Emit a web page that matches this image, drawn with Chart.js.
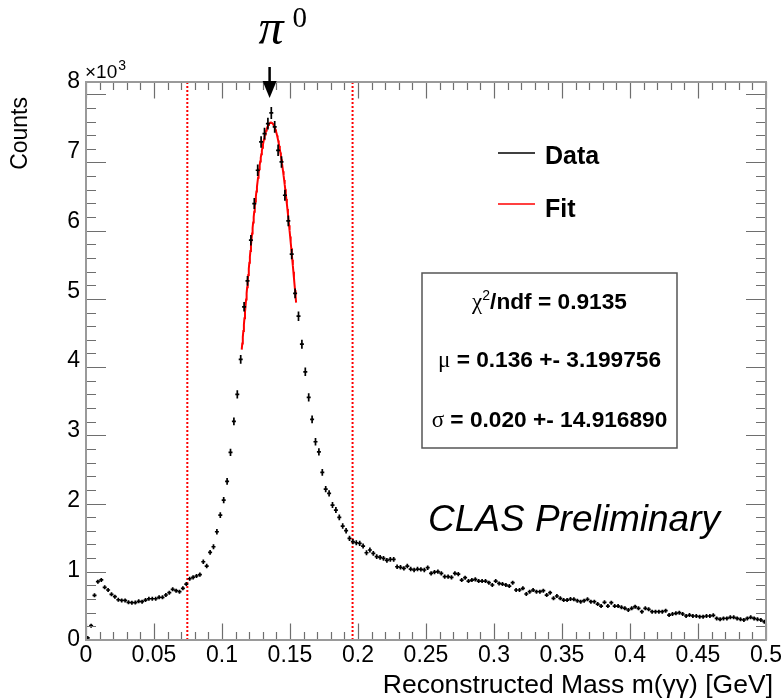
<!DOCTYPE html>
<html>
<head>
<meta charset="utf-8">
<script src="https://cdn.jsdelivr.net/npm/chart.js@4.4.1/dist/chart.umd.min.js"></script>
<style>
  html, body { margin: 0; padding: 0; background: #ffffff; }
  #wrap { width: 781px; height: 700px; position: relative; }
</style>
</head>
<body>
<div id="wrap"><canvas id="c" width="781" height="700"></canvas></div>
<script>
// Two-photon invariant mass spectrum, 200 bins of 2.5 MeV from 0 to 0.5 GeV
const binWidth = 0.0025;
const counts = [
  30, 210, 655, 855, 880, 772, 733, 670, 635, 590,
  580, 580, 552, 547, 548, 567, 562, 585, 605, 605,
  605, 625, 625, 660, 694, 743, 723, 709, 757, 820,
  898, 918, 938, 957, 1147, 1084, 1285, 1367, 1587, 1831,
  2051, 2325, 2750, 3204, 3600, 4113, 4884, 5265, 5861, 6398,
  6886, 7301, 7424, 7570, 7726, 7521, 7179, 7008, 6520, 6144,
  5656, 5080, 4747, 4337, 3932, 3556, 3234, 2906, 2759, 2457,
  2212, 2149, 1978, 1905, 1797, 1670, 1602, 1490, 1441, 1426,
  1416, 1377, 1279, 1319, 1270, 1221, 1211, 1197, 1167, 1182,
  1182, 1074, 1065, 1050, 1084, 1040, 1026, 1040, 1036, 1026,
  1060, 977, 996, 1001, 977, 928, 928, 918, 977, 967,
  879, 913, 864, 879, 889, 864, 864, 864, 840, 806,
  864, 830, 820, 806, 791, 840, 733, 733, 757, 674,
  708, 733, 708, 708, 723, 659, 694, 611, 645, 611,
  586, 586, 601, 596, 576, 562, 576, 596, 562, 562,
  527, 498, 552, 498, 547, 498, 498, 479, 464, 440,
  464, 488, 464, 415, 464, 450, 415, 415, 415, 415,
  430, 366, 381, 391, 400, 381, 352, 366, 352, 352,
  342, 342, 352, 352, 361, 317, 303, 317, 317, 332,
  332, 317, 303, 293, 317, 332, 317, 303, 293, 269
];

// Axis tick labels (y labels in units of 10^3 counts)
const xTickLabels = ['0', '0.05', '0.1', '0.15', '0.2', '0.25', '0.3', '0.35', '0.4', '0.45', '0.5'];
const yTickLabels = ['0', '1', '2', '3', '4', '5', '6', '7', '8'];

// Gaussian fit result
const fitMu = 0.136;
const fitMuErr = '3.199756';
const fitSigma = 0.020;
const fitSigmaErr = '14.916890';
const fitChi2Ndf = '0.9135';
const fitAmplitude = 7585;
const fitRange = [0.1145, 0.1545];

// Signal window edges and the pi0 marker position
const windowEdges = [0.0745, 0.196];
const peakMarkerX = 0.135;

const yMax = 8180;

const dataPoints = counts.map((c, i) => ({ x: (i + 0.5) * binWidth, y: c }));

const fitPoints = [];
const fitSteps = 100;
for (let k = 0; k <= fitSteps; k++) {
  const x = fitRange[0] + k * (fitRange[1] - fitRange[0]) / fitSteps;
  fitPoints.push({ x: x, y: fitAmplitude * Math.exp(-0.5 * Math.pow((x - fitMu) / fitSigma, 2)) });
}

const SANS = '"Liberation Sans", Arial, Helvetica, sans-serif';
const SERIF = '"Liberation Serif", "DejaVu Serif", serif';

// Error crosses for the histogram: horizontal bar = bin width, vertical bar = sqrt(N)
const errorCrossPlugin = {
  id: 'errorCross',
  afterDatasetsDraw(chart) {
    const ctx = chart.ctx, xs = chart.scales.x, ys = chart.scales.y, a = chart.chartArea;
    const ds = chart.data.datasets[0];
    ctx.save();
    ctx.beginPath();
    ctx.rect(a.left, a.top, a.right - a.left, a.bottom - a.top);
    ctx.clip();
    ctx.strokeStyle = '#000000';
    ctx.lineWidth = 1.7;
    ctx.beginPath();
    ds.data.forEach(p => {
      const px = xs.getPixelForValue(p.x);
      const py = ys.getPixelForValue(p.y);
      const hw = Math.max((xs.getPixelForValue(p.x + binWidth / 2) - xs.getPixelForValue(p.x - binWidth / 2)) / 2, 2);
      const e = Math.sqrt(p.y);
      const yt = Math.min(ys.getPixelForValue(p.y + e), py - 2);
      const yb = Math.max(ys.getPixelForValue(p.y - e), py + 2);
      ctx.moveTo(px - hw, py); ctx.lineTo(px + hw, py);
      ctx.moveTo(px, yt); ctx.lineTo(px, yb);
    });
    ctx.stroke();
    ctx.restore();
  }
};

// Frame with inward major/minor ticks on all four sides
const framePlugin = {
  id: 'frame',
  afterDatasetsDraw(chart) {
    const ctx = chart.ctx, xs = chart.scales.x, ys = chart.scales.y, a = chart.chartArea;
    ctx.save();
    ctx.strokeStyle = '#6e6e6e';
    ctx.lineWidth = 1.2;
    ctx.beginPath();
    for (let k = 0; k <= 50; k++) {
      const v = k * 0.01;
      const px = Math.round(xs.getPixelForValue(v)) + 0.5;
      const len = (k % 5 === 0) ? 16.5 : 8;
      ctx.moveTo(px, a.bottom); ctx.lineTo(px, a.bottom - len);
      ctx.moveTo(px, a.top); ctx.lineTo(px, a.top + len);
    }
    for (let k = 0; k * 200 <= yMax; k++) {
      const v = k * 200;
      const py = Math.round(ys.getPixelForValue(v)) + 0.5;
      const len = (k % 5 === 0) ? 20 : 10;
      ctx.moveTo(a.left, py); ctx.lineTo(a.left + len, py);
      ctx.moveTo(a.right, py); ctx.lineTo(a.right - len, py);
    }
    ctx.stroke();
    ctx.strokeStyle = '#9a9a9a';
    ctx.lineWidth = 2;
    ctx.strokeRect(a.left, a.top, a.right - a.left, a.bottom - a.top);
    ctx.restore();
  }
};

// Titles, legend, fit box and labels
const annotationPlugin = {
  id: 'annotations',
  afterDraw(chart) {
    const ctx = chart.ctx, xs = chart.scales.x, ys = chart.scales.y, a = chart.chartArea;
    ctx.save();
    ctx.fillStyle = '#000000';
    ctx.textBaseline = 'alphabetic';

    // exponent marker of the y axis
    ctx.textAlign = 'left';
    ctx.font = '19px ' + SANS;
    ctx.fillText('\u00d710', a.left - 1, 78);
    const wx = ctx.measureText('\u00d710').width;
    ctx.font = '14px ' + SANS;
    ctx.fillText('3', a.left - 1 + wx + 1, 70);

    // y axis title
    ctx.save();
    ctx.translate(27, 97);
    ctx.rotate(-Math.PI / 2);
    ctx.textAlign = 'right';
    ctx.font = '23px ' + SANS;
    ctx.fillText('Counts', 0, 0);
    ctx.restore();

    // x axis title
    ctx.textAlign = 'right';
    ctx.font = '26.5px ' + SANS;
    ctx.fillText('Reconstructed Mass m(\u03b3\u03b3) [GeV]', 773, 693);

    // pi0 label and arrow
    const ax = xs.getPixelForValue(peakMarkerX);
    ctx.textAlign = 'left';
    ctx.font = 'italic 50px ' + SERIF;
    ctx.fillText('\u03c0', ax - 11, 44);
    ctx.font = '29px ' + SERIF;
    ctx.fillText('0', ax + 23, 27);
    ctx.strokeStyle = '#000000';
    ctx.lineWidth = 2.5;
    ctx.beginPath();
    ctx.moveTo(ax, 67); ctx.lineTo(ax, 84);
    ctx.stroke();
    ctx.beginPath();
    ctx.moveTo(ax - 7, 81); ctx.lineTo(ax + 7, 81); ctx.lineTo(ax, 98); ctx.closePath();
    ctx.fill();

    // legend
    const dsData = chart.data.datasets[0], dsFit = chart.data.datasets[1];
    ctx.lineWidth = 1.5;
    ctx.strokeStyle = '#000000';
    ctx.beginPath(); ctx.moveTo(498, 153); ctx.lineTo(535, 153); ctx.stroke();
    ctx.strokeStyle = dsFit.borderColor;
    ctx.beginPath(); ctx.moveTo(498, 204); ctx.lineTo(535, 204); ctx.stroke();
    ctx.font = 'bold 25px ' + SANS;
    ctx.textAlign = 'left';
    ctx.fillText(dsData.label, 545, 164);
    ctx.fillText(dsFit.label, 545, 217);

    // fit result box
    ctx.strokeStyle = '#555555';
    ctx.lineWidth = 1.5;
    ctx.strokeRect(422, 273, 255, 175);
    const cx = 549.5;
    const drawMixed = (parts, baseline) => {
      let total = 0;
      parts.forEach(p => { ctx.font = p.font; p.w = ctx.measureText(p.t).width; total += p.w; });
      let x = cx - total / 2;
      ctx.textAlign = 'left';
      parts.forEach(p => { ctx.font = p.font; ctx.fillText(p.t, x, baseline + (p.dy || 0)); x += p.w; });
    };
    const greek = '23px ' + SERIF;
    const bold = 'bold 22.7px ' + SANS;
    drawMixed([{ t: '\u03c7', font: greek }, { t: '2', font: '14px ' + SANS, dy: -9 },
               { t: '/ndf = ' + fitChi2Ndf, font: bold }], 309);
    drawMixed([{ t: '\u03bc', font: greek }, { t: ' = ' + fitMu.toFixed(3) + ' +- ' + fitMuErr, font: bold }], 367);
    drawMixed([{ t: '\u03c3', font: greek }, { t: ' = ' + fitSigma.toFixed(3) + ' +- ' + fitSigmaErr, font: bold }], 427);

    // preliminary label
    ctx.font = 'italic 37px ' + SANS;
    ctx.textAlign = 'left';
    ctx.fillText('CLAS Preliminary', 428, 531);

    ctx.restore();
  }
};

const edgeLine = (x) => ({
  type: 'line',
  label: 'window',
  data: [{ x: x, y: 0 }, { x: x, y: yMax }],
  borderColor: '#ff0000',
  borderWidth: 2,
  borderDash: [2, 2],
  pointRadius: 0,
  fill: false,
  order: 3
});

new Chart(document.getElementById('c'), {
  type: 'scatter',
  data: {
    datasets: [
      { label: 'Data', data: dataPoints, pointRadius: 0, showLine: false, borderColor: '#000000', order: 0 },
      { type: 'line', label: 'Fit', data: fitPoints, borderColor: '#ff0000', borderWidth: 2,
        pointRadius: 0, fill: false, tension: 0, order: 1 },
      edgeLine(windowEdges[0]),
      edgeLine(windowEdges[1])
    ]
  },
  options: {
    responsive: false,
    animation: false,
    devicePixelRatio: 1,
    layout: { padding: { left: 0, right: 15, top: 82, bottom: 0 } },
    plugins: { legend: { display: false }, tooltip: { enabled: false }, title: { display: false } },
    scales: {
      x: {
        type: 'linear', min: 0, max: 0.5,
        grid: { display: false, drawTicks: false },
        border: { display: false },
        ticks: {
          stepSize: 0.05, includeBounds: false, autoSkip: false, maxRotation: 0, minRotation: 0,
          padding: 2, color: '#000000', font: { family: SANS, size: 23 },
          callback: (v, i) => xTickLabels[i]
        },
        afterFit: (s) => { s.height = 60; s.paddingLeft = 0; s.paddingRight = 0; }
      },
      y: {
        type: 'linear', min: 0, max: yMax,
        grid: { display: false, drawTicks: false },
        border: { display: false },
        ticks: {
          stepSize: 1000, includeBounds: false, autoSkip: false,
          padding: 6, color: '#000000', font: { family: SANS, size: 23 },
          callback: (v, i) => yTickLabels[i]
        },
        afterFit: (s) => { s.width = 86; s.paddingTop = 0; s.paddingBottom = 0; }
      }
    }
  },
  plugins: [errorCrossPlugin, framePlugin, annotationPlugin]
});
</script>
</body>
</html>
